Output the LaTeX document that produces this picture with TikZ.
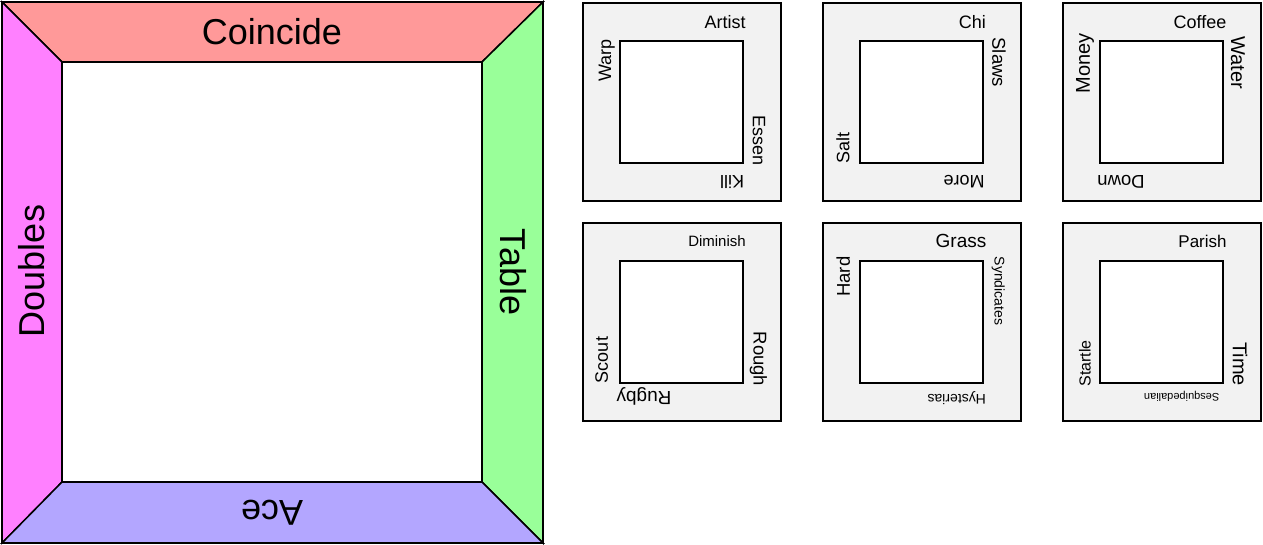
\documentclass[tikz,border=0pt]{standalone}
\usepackage{fontspec}
\setmainfont{Liberation Sans}
\definecolor{topc}{HTML}{FF9999}
\definecolor{leftc}{HTML}{FF80FF}
\definecolor{rightc}{HTML}{99FF99}
\definecolor{botc}{HTML}{B3A6FF}
\definecolor{boxgray}{HTML}{F2F2F2}
\begin{document}
\begin{tikzpicture}[x=1pt,y=-1pt,
  lbl/.style={inner sep=0pt, font=\fontsize{#1}{#1}\selectfont},
  band/.style={draw=black, line width=1.5pt, line join=miter},
  tile/.style={draw=black, fill=boxgray, line width=1.6pt},
  hole/.style={draw=black, fill=white, line width=2pt}]
\useasboundingbox (0,0) rectangle (1263,545);
% big square
\coordinate (O1) at (2,2); \coordinate (O2) at (543,2);
\coordinate (O3) at (543,543); \coordinate (O4) at (2,543);
\coordinate (I1) at (62,62); \coordinate (I2) at (482,62);
\coordinate (I3) at (482,482); \coordinate (I4) at (62,482);
\path[band, fill=topc] (O1) -- (O2) -- (I2) -- (I1) -- cycle;
\path[band, fill=leftc] (O1) -- (I1) -- (I4) -- (O4) -- cycle;
\path[band, fill=rightc] (O2) -- (O3) -- (I3) -- (I2) -- cycle;
\path[band, fill=botc] (O4) -- (I4) -- (I3) -- (O3) -- cycle;
\draw[hole] (I1) rectangle (I3);
\draw[line width=2pt] (O1) rectangle (O3);
\node[lbl=36] (coincide) at (272,32) {Coincide};
\node[lbl=36, rotate=90] (doubles) at (32,271) {Doubles};
\node[lbl=36, rotate=-90] (table) at (513,272) {Table};
\node[lbl=36, rotate=180] (ace) at (272,513) {Ace};
% small tiles
\foreach \x in {583,823,1063}{
  \foreach \y in {3,223}{
    \draw[tile] (\x,\y) rectangle ++(198,198);
    \draw[hole] (\x+37,\y+38) rectangle ++(123,122);
  }
}
% tile 1
\node[lbl=18] (artist) at (725,21.7) {Artist};
\node[lbl=18, rotate=90] (warp) at (606.7,60.5) {Warp};
\node[lbl=18, rotate=-90] (essen) at (759,141) {Essen};
\node[lbl=18, rotate=180] (kill) at (732,181.7) {Kill};
% tile 2
\node[lbl=18] (chi) at (972.3,21.7) {Chi};
\node[lbl=18.5, rotate=-90] (slaws) at (999,62.3) {Slaws};
\node[lbl=18, rotate=90] (salt) at (843,148) {Salt};
\node[lbl=18, rotate=180] (more) at (964,181.7) {More};
% tile 3
\node[lbl=18] (coffee) at (1200,21.7) {Coffee};
\node[lbl=20, rotate=90] (money) at (1085,63.3) {Money};
\node[lbl=20, rotate=-90] (water) at (1238,62.5) {Water};
\node[lbl=18.5, rotate=180] (down) at (1121,181.7) {Down};
% tile 4
\node[lbl=15] (diminish) at (717,241) {Diminish};
\node[lbl=18, rotate=90] (scout) at (601.7,360) {Scout};
\node[lbl=18.5, rotate=-90] (rough) at (758.3,359) {Rough};
\node[lbl=19, rotate=180] (rugby) at (644,396.7) {Rugby};
% tile 5
\node[lbl=19] (grass) at (961,241) {Grass};
\node[lbl=18.5, rotate=90] (hard) at (843.3,276.7) {Hard};
\node[lbl=14, rotate=-90] (synd) at (998.3,291) {Syndicates};
\node[lbl=14, rotate=180] (hyst) at (956.7,398.3) {Hysterias};
% tile 6
\node[lbl=17] (parish) at (1202.5,241) {Parish};
\node[lbl=16, rotate=90] (startle) at (1085,363.3) {Startle};
\node[lbl=20, rotate=-90] (time) at (1240,364) {Time};
\node[lbl=11, rotate=180] (sesq) at (1181.7,396.7) {Sesquipedalian};
\end{tikzpicture}
\end{document}
